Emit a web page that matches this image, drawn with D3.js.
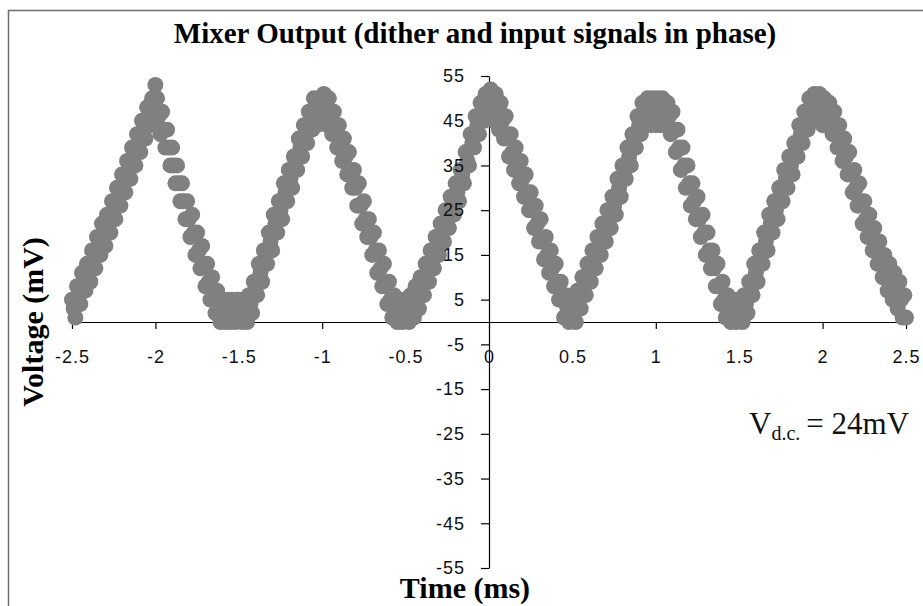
<!DOCTYPE html>
<html>
<head>
<meta charset="utf-8">
<script src="https://cdn.jsdelivr.net/npm/d3@7"></script>
<style>
  body { margin: 0; background: #fff; }
</style>
</head>
<body>
<div id="chart"></div>
<script>
const cycle1 = [
  [-2.50,5],[-2.49,3],[-2.48,1],[-2.47,8],[-2.46,6],[-2.45,4],[-2.44,11],[-2.43,9],[-2.42,7],[-2.41,13],
  [-2.40,11],[-2.39,9],[-2.38,16],[-2.37,14],[-2.36,12],[-2.35,19],[-2.34,17],[-2.33,15],[-2.32,22],[-2.31,20],
  [-2.30,17],[-2.29,24],[-2.28,22],[-2.27,20],[-2.26,27],[-2.25,25],[-2.24,23],[-2.23,30],[-2.22,28],[-2.21,26],
  [-2.20,33],[-2.19,31],[-2.18,29],[-2.17,36],[-2.16,34],[-2.15,32],[-2.14,39],[-2.13,37],[-2.12,35],[-2.11,42],
  [-2.10,40],[-2.09,38],[-2.08,45],[-2.07,43],[-2.06,41],[-2.05,48],[-2.04,46],[-2.03,44],[-2.02,50],[-2.01,47],
  [-2.00,53],[-1.99,50],[-1.98,46],[-1.97,42],[-1.96,47],[-1.95,43],[-1.94,39],[-1.93,43],[-1.92,39],[-1.91,35],
  [-1.90,39],[-1.89,35],[-1.88,31],[-1.87,35],[-1.86,31],[-1.85,27],[-1.84,31],[-1.83,27],[-1.82,23],[-1.81,27],
  [-1.80,23],[-1.79,19],[-1.78,24],[-1.77,20],[-1.76,15],[-1.75,20],[-1.74,16],[-1.73,12],[-1.72,17],[-1.71,13],
  [-1.70,8],[-1.69,13],[-1.68,9],[-1.67,5],[-1.66,10],[-1.65,6],[-1.64,2],[-1.63,7],[-1.62,3],[-1.61,0],
  [-1.60,5],[-1.59,2],[-1.58,0],[-1.57,5],[-1.56,2],[-1.55,0],[-1.54,5],[-1.53,2],[-1.52,0],[-1.51,5]
];
const cycle2 = [
  [-1.50,5],[-1.49,2],[-1.48,0],[-1.47,5],[-1.46,2],[-1.45,0],[-1.44,6],[-1.43,4],[-1.42,2],[-1.41,9],
  [-1.40,7],[-1.39,6],[-1.38,13],[-1.37,11],[-1.36,9],[-1.35,16],[-1.34,15],[-1.33,13],[-1.32,20],[-1.31,18],
  [-1.30,16],[-1.29,24],[-1.28,22],[-1.27,20],[-1.26,27],[-1.25,25],[-1.24,23],[-1.23,31],[-1.22,29],[-1.21,27],
  [-1.20,34],[-1.19,32],[-1.18,30],[-1.17,37],[-1.16,36],[-1.15,34],[-1.14,41],[-1.13,39],[-1.12,37],[-1.11,44],
  [-1.10,42],[-1.09,40],[-1.08,47],[-1.07,45],[-1.06,43],[-1.05,50],[-1.04,47],[-1.03,44],[-1.02,50],[-1.01,48],
  [-1.00,45],[-0.99,51],[-0.98,48],[-0.97,44],[-0.96,50],[-0.95,46],[-0.94,42],[-0.93,47],[-0.92,43],[-0.91,39],
  [-0.90,44],[-0.89,40],[-0.88,36],[-0.87,41],[-0.86,37],[-0.85,33],[-0.84,38],[-0.83,34],[-0.82,30],[-0.81,34],
  [-0.80,30],[-0.79,26],[-0.78,31],[-0.77,26],[-0.76,22],[-0.75,27],[-0.74,23],[-0.73,19],[-0.72,23],[-0.71,19],
  [-0.70,15],[-0.69,20],[-0.68,16],[-0.67,11],[-0.66,16],[-0.65,12],[-0.64,8],[-0.63,13],[-0.62,8],[-0.61,4],
  [-0.60,9],[-0.59,5],[-0.58,1],[-0.57,6],[-0.56,3],[-0.55,0],[-0.54,5],[-0.53,2],[-0.52,0],[-0.51,5]
];
const cycle3 = [
  [-0.50,5],[-0.49,2],[-0.48,0],[-0.47,6],[-0.46,3],[-0.45,1],[-0.44,8],[-0.43,5],[-0.42,3],[-0.41,10],
  [-0.40,8],[-0.39,6],[-0.38,13],[-0.37,11],[-0.36,9],[-0.35,16],[-0.34,14],[-0.33,12],[-0.32,19],[-0.31,17],
  [-0.30,15],[-0.29,22],[-0.28,20],[-0.27,18],[-0.26,25],[-0.25,23],[-0.24,21],[-0.23,28],[-0.22,26],[-0.21,24],
  [-0.20,31],[-0.19,29],[-0.18,27],[-0.17,34],[-0.16,33],[-0.15,31],[-0.14,38],[-0.13,36],[-0.12,35],[-0.11,42],
  [-0.10,40],[-0.09,39],[-0.08,46],[-0.07,44],[-0.06,42],[-0.05,49],[-0.04,47],[-0.03,45],[-0.02,51],[-0.01,49],
  [0.00,46],[0.01,52],[0.02,49],[0.03,45],[0.04,51],[0.05,47],[0.06,43],[0.07,49],[0.08,45],[0.09,41],
  [0.10,46],[0.11,42],[0.12,37],[0.13,42],[0.14,38],[0.15,34],[0.16,39],[0.17,35],[0.18,31],[0.19,36],
  [0.20,32],[0.21,28],[0.22,33],[0.23,29],[0.24,25],[0.25,29],[0.26,25],[0.27,21],[0.28,26],[0.29,22],
  [0.30,18],[0.31,23],[0.32,18],[0.33,14],[0.34,19],[0.35,15],[0.36,11],[0.37,16],[0.38,12],[0.39,8],
  [0.40,13],[0.41,9],[0.42,5],[0.43,9],[0.44,5],[0.45,1],[0.46,6],[0.47,3],[0.48,0],[0.49,5]
];
const cycle4 = [
  [0.50,4],[0.51,2],[0.52,0],[0.53,7],[0.54,5],[0.55,3],[0.56,10],[0.57,8],[0.58,6],[0.59,13],
  [0.60,11],[0.61,9],[0.62,16],[0.63,14],[0.64,12],[0.65,19],[0.66,17],[0.67,15],[0.68,22],[0.69,20],
  [0.70,18],[0.71,25],[0.72,23],[0.73,21],[0.74,28],[0.75,26],[0.76,24],[0.77,32],[0.78,30],[0.79,28],
  [0.80,35],[0.81,33],[0.82,32],[0.83,39],[0.84,37],[0.85,35],[0.86,42],[0.87,41],[0.88,39],[0.89,46],
  [0.90,44],[0.91,42],[0.92,49],[0.93,47],[0.94,44],[0.95,50],[0.96,47],[0.97,44],[0.98,50],[0.99,47],
  [1.00,44],[1.01,50],[1.02,47],[1.03,44],[1.04,50],[1.05,47],[1.06,44],[1.07,49],[1.08,46],[1.09,42],
  [1.10,47],[1.11,43],[1.12,38],[1.13,43],[1.14,39],[1.15,34],[1.16,39],[1.17,35],[1.18,30],[1.19,35],
  [1.20,31],[1.21,26],[1.22,31],[1.23,27],[1.24,23],[1.25,28],[1.26,23],[1.27,19],[1.28,24],[1.29,20],
  [1.30,15],[1.31,20],[1.32,16],[1.33,12],[1.34,16],[1.35,12],[1.36,8],[1.37,13],[1.38,8],[1.39,4],
  [1.40,9],[1.41,5],[1.42,1],[1.43,6],[1.44,3],[1.45,0],[1.46,5],[1.47,2],[1.48,0],[1.49,5]
];
const cycle5 = [
  [1.50,5],[1.51,2],[1.52,0],[1.53,6],[1.54,4],[1.55,2],[1.56,9],[1.57,7],[1.58,6],[1.59,13],
  [1.60,11],[1.61,9],[1.62,16],[1.63,15],[1.64,13],[1.65,20],[1.66,18],[1.67,16],[1.68,24],[1.69,22],
  [1.70,20],[1.71,27],[1.72,25],[1.73,23],[1.74,30],[1.75,29],[1.76,27],[1.77,34],[1.78,32],[1.79,30],
  [1.80,37],[1.81,35],[1.82,33],[1.83,40],[1.84,39],[1.85,37],[1.86,44],[1.87,42],[1.88,40],[1.89,47],
  [1.90,45],[1.91,43],[1.92,50],[1.93,47],[1.94,45],[1.95,51],[1.96,48],[1.97,45],[1.98,51],[1.99,48],
  [2.00,44],[2.01,50],[2.02,47],[2.03,44],[2.04,49],[2.05,46],[2.06,42],[2.07,47],[2.08,43],[2.09,39],
  [2.10,44],[2.11,40],[2.12,36],[2.13,41],[2.14,37],[2.15,33],[2.16,38],[2.17,33],[2.18,29],[2.19,34],
  [2.20,30],[2.21,26],[2.22,31],[2.23,27],[2.24,22],[2.25,27],[2.26,23],[2.27,19],[2.28,24],[2.29,20],
  [2.30,16],[2.31,21],[2.32,17],[2.33,13],[2.34,18],[2.35,14],[2.36,10],[2.37,15],[2.38,11],[2.39,7],
  [2.40,13],[2.41,9],[2.42,5],[2.43,11],[2.44,7],[2.45,3],[2.46,9],[2.47,5],[2.48,1],[2.49,6],
  [2.50,1]
];

const xTicks = [-2.5, -2, -1.5, -1, -0.5, 0, 0.5, 1, 1.5, 2, 2.5];
const yTicks = [55, 45, 35, 25, 15, 5, -5, -15, -25, -35, -45, -55];

const titleText = "Mixer Output (dither and input signals in phase)";
const xLabel = "Time (ms)";
const yLabel = "Voltage (mV)";

const points = [].concat(cycle1, cycle2, cycle3, cycle4, cycle5);

const W = 923, H = 606;
const serif = "'Liberation Serif', 'Times New Roman', serif";
const sans = "'Liberation Sans', Arial, sans-serif";

const svg = d3.select("#chart").append("svg")
  .attr("width", W)
  .attr("height", H)
  .style("display", "block");

svg.append("rect").attr("width", W).attr("height", H).attr("fill", "#fff");

// chart frame (right and bottom edges fall outside the capture)
svg.append("rect")
  .attr("x", 8.5).attr("y", 10.5)
  .attr("width", W + 20).attr("height", H + 20)
  .attr("fill", "none")
  .attr("stroke", "#6e6e6e")
  .attr("stroke-width", 1.5);

const x = d3.scaleLinear().domain([-2.5, 2.5]).range([72, 906]);
const y = d3.scaleLinear().domain([-55, 55]).range([568, 76]);

// axis lines and ticks first, dots go on top of them
const xAxisLines = svg.append("g")
  .attr("transform", `translate(0,${y(0)})`)
  .call(d3.axisBottom(x).tickValues(xTicks).tickSize(7).tickSizeOuter(0).tickFormat(""));
const yAxisLines = svg.append("g")
  .attr("transform", `translate(${x(0)},0)`)
  .call(d3.axisLeft(y).tickValues(yTicks).tickSize(8).tickSizeOuter(0).tickFormat(""));
[xAxisLines, yAxisLines].forEach((g) => {
  g.selectAll("path, line").attr("stroke", "#000").attr("stroke-width", 1.2);
});

svg.append("g")
  .selectAll("circle")
  .data(points)
  .join("circle")
  .attr("cx", (d) => x(d[0]))
  .attr("cy", (d) => y(d[1]))
  .attr("r", 8)
  .attr("fill", "#808080");

// tick labels sit above the dots, plain hyphen for negatives like the original
const plain = (d) => String(d);
const xAxisText = svg.append("g")
  .attr("transform", `translate(0,${y(0)})`)
  .call(d3.axisBottom(x).tickValues(xTicks).tickSize(0).tickPadding(28).tickFormat(plain));
const yAxisText = svg.append("g")
  .attr("transform", `translate(${x(0)},0)`)
  .call(d3.axisLeft(y).tickValues(yTicks).tickSize(0).tickPadding(24).tickFormat(plain));
[xAxisText, yAxisText].forEach((g) => {
  g.select(".domain").remove();
  g.selectAll("line").remove();
  g.selectAll("text")
    .attr("font-family", sans)
    .attr("font-size", 18)
    .attr("letter-spacing", 1)
    .attr("fill", "#111");
});

svg.append("text")
  .attr("x", 475)
  .attr("y", 43)
  .attr("text-anchor", "middle")
  .attr("font-family", serif)
  .attr("font-weight", "bold")
  .attr("font-size", 29)
  .text(titleText);

svg.append("text")
  .attr("x", 465)
  .attr("y", 598)
  .attr("text-anchor", "middle")
  .attr("font-family", serif)
  .attr("font-weight", "bold")
  .attr("font-size", 30)
  .text(xLabel);

svg.append("text")
  .attr("transform", "translate(43,322) rotate(-90)")
  .attr("text-anchor", "middle")
  .attr("font-family", serif)
  .attr("font-weight", "bold")
  .attr("font-size", 30)
  .text(yLabel);

// V_d.c. annotation
const note = svg.append("text")
  .attr("x", 749)
  .attr("y", 434)
  .attr("font-family", serif)
  .attr("font-size", 31)
  .attr("fill", "#111");
note.append("tspan").text("V");
note.append("tspan").attr("font-size", 20).attr("dy", 6).text("d.c.");
note.append("tspan").attr("dy", -6).attr("dx", 6).text("= 24mV");
</script>
</body>
</html>
